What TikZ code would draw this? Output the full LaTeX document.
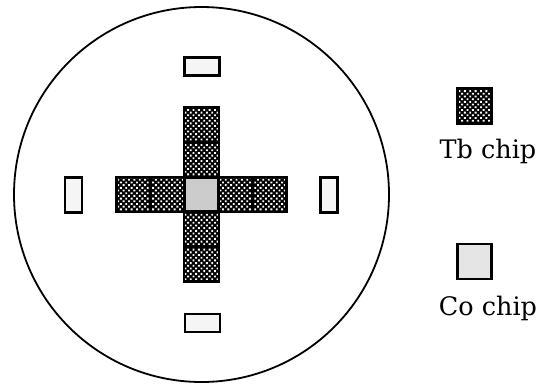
\documentclass[tikz,border=0pt]{standalone}
\usepackage{fontspec}
\setmainfont{DejaVu Serif}
\usetikzlibrary{patterns.meta}
\tikzset{
  chip/.style={draw, line width=2.4pt, inner sep=0pt, minimum width=34pt, minimum height=35pt},
  tbchip/.style={chip, preaction={fill=black}, pattern={Dots[distance=3.8pt, radius=1.3pt, angle=45]}, pattern color=white},
  cochip/.style={chip, fill=black!10},
  spot/.style={draw, line width=2.2pt, inner sep=0pt, fill=black!4},
  label/.style={anchor=base, font=\fontsize{25.5}{30}\selectfont}
}
\begin{document}
\begin{tikzpicture}[x=1pt, y=-1pt]
            \useasboundingbox (0,0) rectangle (540,384);
            \node[circle, draw, line width=1.8pt, minimum size=375pt, inner sep=0pt] (disk) at (201.5,194.5) {};
            \node[cochip, fill=black!20] (mid) at (201.5,194.5) {};
            \node[tbchip] (left1) at (167.5,194.5) {};
            \node[tbchip] (left2) at (133.5,194.5) {};
            \node[tbchip] (right1) at (235.5,194.5) {};
            \node[tbchip] (right2) at (269.5,194.5) {};
            \node[tbchip, minimum width=35pt] (up1) at (201.5,160) {};
            \node[tbchip, minimum width=35pt] (up2) at (201.5,125) {};
            \node[tbchip, minimum width=35pt] (down1) at (201.5,229) {};
            \node[tbchip, minimum width=35pt] (down2) at (201.5,264) {};
            \node[spot, minimum width=35pt, minimum height=18pt] (north) at (202,66.5) {};
            \node[spot, minimum width=35pt, minimum height=18pt] (south) at (202.5,323) {};
            \node[spot, minimum width=17pt, minimum height=35pt] (west) at (73.5,195) {};
            \node[spot, minimum width=17pt, minimum height=35pt] (east) at (329,195) {};
            \node[tbchip] (tbkey) at (474.5,106) {};
            \node[cochip] (cokey) at (474.5,261.5) {};
            \node[label] (tbtext) at (488,158) {Tb chip};
            \node[label] (cotext) at (488,315) {Co chip};
        \end{tikzpicture}
\end{document}
